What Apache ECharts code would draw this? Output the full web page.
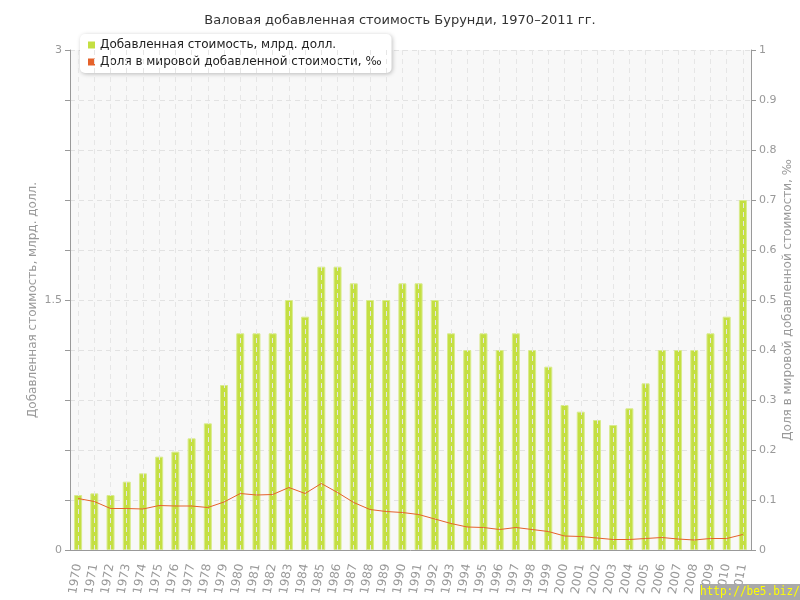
<!DOCTYPE html>
<html>
<head>
<meta charset="utf-8">
<script src="https://cdn.jsdelivr.net/npm/echarts@6/dist/echarts.min.js"></script>
<style>
  html, body { margin: 0; padding: 0; background: #fff; }
  #chart { width: 800px; height: 600px; }
</style>
</head>
<body>
<div id="chart"></div>
<script>
// годы
var years = ['1970','1971','1972','1973','1974','1975','1976','1977','1978','1979',
  '1980','1981','1982','1983','1984','1985','1986','1987','1988','1989',
  '1990','1991','1992','1993','1994','1995','1996','1997','1998','1999',
  '2000','2001','2002','2003','2004','2005','2006','2007','2008','2009',
  '2010','2011'];
// добавленная стоимость, млрд. долл.
var valueAdded = [0.33,0.34,0.33,0.41,0.46,0.56,0.59,0.67,0.76,0.99,
  1.3,1.3,1.3,1.5,1.4,1.7,1.7,1.6,1.5,1.5,
  1.6,1.6,1.5,1.3,1.2,1.3,1.2,1.3,1.2,1.1,
  0.87,0.83,0.78,0.75,0.85,1.0,1.2,1.2,1.2,1.3,
  1.4,2.1];
// доля в мировой добавленной стоимости, ‰
var worldShare = [0.103,0.097,0.083,0.083,0.082,0.089,0.088,0.088,0.085,0.096,
  0.113,0.110,0.111,0.125,0.113,0.133,0.115,0.095,0.081,0.077,
  0.075,0.071,0.062,0.053,0.046,0.045,0.041,0.045,0.041,0.037,
  0.028,0.027,0.024,0.021,0.021,0.023,0.025,0.022,0.020,0.023,
  0.023,0.031];
var leftTicks = ['0', '1.5', '3'];

var font = 'DejaVu Sans';
var chart = echarts.init(document.getElementById('chart'));
var option = {
    animation: false,
    textStyle: { fontFamily: font },
    title: {
        text: 'Валовая добавленная стоимость Бурунди, 1970–2011 гг.',
        left: 'center',
        top: 9,
        textStyle: { fontFamily: font, fontSize: 13, fontWeight: 'normal', color: '#333' }
    },
    legend: {
        orient: 'vertical',
        left: 80,
        top: 34,
        padding: [5, 10, 5, 8],
        itemGap: 5,
        itemWidth: 7,
        itemHeight: 7,
        icon: 'rect',
        itemStyle: { borderWidth: 0 },
        backgroundColor: '#fff',
        borderRadius: 5,
        shadowBlur: 4,
        shadowColor: 'rgba(0,0,0,0.25)',
        shadowOffsetX: 1,
        shadowOffsetY: 1,
        textStyle: { fontFamily: font, fontSize: 12, color: '#222' },
        data: ['Добавленная стоимость, млрд. долл.', 'Доля в мировой добавленной стоимости, ‰']
    },
    grid: {
        left: 70, right: 49, top: 50, bottom: 50,
        outerBoundsMode: 'none',
        containLabel: false,
        show: true, backgroundColor: '#f8f8f8', borderWidth: 0
    },
    xAxis: {
        type: 'category',
        data: years,
        z: 5,
        axisLine: { lineStyle: { color: '#999' } },
        axisTick: { alignWithLabel: true, length: 5, lineStyle: { color: '#999' } },
        axisLabel: { rotate: 80, color: '#999', fontSize: 12, fontFamily: font, margin: 14, interval: 0 },
        splitLine: { show: true, alignWithLabel: true, lineStyle: { color: '#e6e6e6', type: [5, 4] } }
    },
    yAxis: [{
        type: 'value',
        min: 0, max: 3, interval: 0.3,
        name: 'Добавленная стоимость, млрд. долл.',
        nameLocation: 'middle',
        nameGap: 31,
        nameMoveOverlap: false,
        nameTextStyle: { color: '#999', fontSize: 12, fontFamily: font },
        axisLine: { show: true, lineStyle: { color: '#999' } },
        axisTick: { show: true, length: 5, lineStyle: { color: '#999' } },
        axisLabel: {
            color: '#999', fontSize: 11, fontFamily: font, margin: 8,
            formatter: function (v) {
                var s = String(Math.round(v * 10) / 10);
                return leftTicks.indexOf(s) >= 0 ? s : '';
            }
        },
        splitLine: { show: true, lineStyle: { color: '#e2e2e2', type: [5, 4] } }
    }, {
        type: 'value',
        min: 0, max: 1, interval: 0.1,
        name: 'Доля в мировой добавленной стоимости, ‰',
        nameLocation: 'middle',
        nameGap: 31,
        nameMoveOverlap: false,
        nameTextStyle: { color: '#999', fontSize: 12, fontFamily: font },
        axisLine: { show: true, lineStyle: { color: '#999' } },
        axisTick: { show: true, length: 5, lineStyle: { color: '#999' } },
        axisLabel: {
            color: '#999', fontSize: 11, fontFamily: font, margin: 8,
            formatter: function (v) { return String(Math.round(v * 10) / 10); }
        },
        splitLine: { show: false }
    }],
    series: [{
        name: 'Добавленная стоимость, млрд. долл.',
        type: 'bar',
        yAxisIndex: 0,
        barWidth: 8,
        data: valueAdded,
        itemStyle: { color: '#c4df42', borderColor: '#d8eb8c', borderWidth: 1 }
    }, {
        name: 'Доля в мировой добавленной стоимости, ‰',
        type: 'line',
        yAxisIndex: 1,
        data: worldShare,
        symbol: 'none',
        z: 6,
        itemStyle: { color: '#e5622b' },
        lineStyle: { color: '#e5622b', width: 1 }
    }],
    graphic: [{
        type: 'rect',
        left: 700, top: 584,
        z: 100,
        shape: { width: 100, height: 16 },
        style: { fill: '#a9a9a9' }
    }, {
        type: 'text',
        left: 700, top: 585,
        z: 101,
        scaleX: 0.85,
        style: { text: 'http://be5.biz/', fill: '#ffff00', font: '13px "DejaVu Sans Mono"' }
    }]
};
chart.setOption(option);
</script>
</body>
</html>
